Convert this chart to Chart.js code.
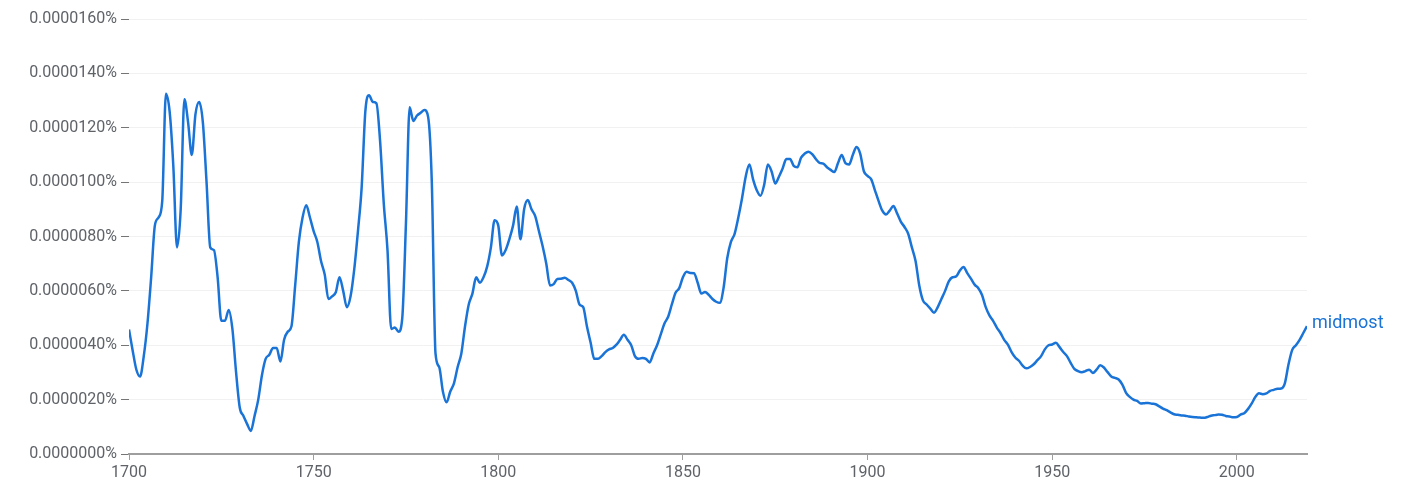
<!DOCTYPE html>
<html>
  <head>
    <title>midmost</title>
    <style>
      html, body { margin: 0; padding: 0; background: #fff; }
      #wrap { width: 1405px; height: 497px; }
    </style>
  </head>
  <body>
    <script src="https://cdn.jsdelivr.net/npm/chart.js"></script>

    <div id="wrap"><canvas id="myChart"></canvas></div>

    <script>
      // term and year span
      const term = 'midmost';
      const firstYear = 1700;
      const lastYear = 2019;

      // yearly values, in units of 0.0000001 %, one row per decade
      const values = [
        45.8, 38, 31, 28.5, 36, 48, 65, 84, 87, 93,            // 1700
        132.5, 126, 106, 76, 90, 130.5, 122, 110, 125, 129.5,  // 1710
        122, 100, 76, 75, 65, 49, 49, 53, 46, 30,              // 1720
        17, 14, 11, 8.5, 14, 20, 29, 35, 36.5, 39,             // 1730
        39, 34, 42, 45, 47, 62, 78, 87, 91.5, 87,              // 1740
        82, 78, 71, 66, 57, 58, 59.5, 65, 60, 54,              // 1750
        58, 68, 82, 98, 126, 132, 129.5, 129, 115, 92,         // 1760
        75, 46, 46.5, 45, 50, 85, 127.5, 122.5, 124.5, 125.5,  // 1770
        126.5, 124, 100, 37, 32, 23, 19, 23, 26, 32,           // 1780
        37, 47, 55, 59, 65, 63, 65, 69, 76, 86,                // 1790
        84, 73, 75, 79, 84, 91, 79, 90, 93.4, 90,              // 1800
        87.5, 82, 76.5, 70, 62, 62.5, 64.4, 64.5, 64.8, 64,    // 1810
        63, 60, 55, 54, 47, 41, 35, 35, 36, 37.5,              // 1820
        38.5, 39, 40.2, 42, 43.9, 42, 40, 36, 35, 35.3,        // 1830
        35, 33.7, 37, 40, 44, 48, 50.5, 55, 59.3, 61,          // 1840
        65, 67, 66.6, 66.5, 63, 59, 59.6, 58.5, 57, 56,        // 1850
        55.6, 61, 72, 78, 81, 87, 94, 102, 106.5, 101,         // 1860
        97, 95, 99, 106.5, 104, 99.5, 102, 105, 108.5, 108.5,  // 1870
        106, 105.5, 109, 110.5, 111.2, 110.3, 108.5, 107.1, 106.8, 105.5, // 1880
        104.5, 103.7, 107, 110, 107, 106.5, 110, 112.9, 110.5, 104,       // 1890
        102.3, 101, 97, 93, 89.5, 88.1, 89.5, 91.2, 88.5, 85.5, // 1900
        83.5, 81, 76, 71, 62, 56.5, 55, 53.5, 52, 54,          // 1910
        57, 60, 63.5, 65, 65.3, 67.5, 68.8, 66.5, 64.5, 62.3,  // 1920
        61, 58.5, 54, 51, 49, 46.5, 44.5, 42, 40.2, 37.5,      // 1930
        35.5, 34.3, 32.5, 31.5, 32, 33, 34.5, 36, 38.5, 40,    // 1940
        40.3, 40.9, 39.3, 37.5, 36, 33.5, 31.3, 30.5, 30.1, 30.5, // 1950
        31, 29.8, 31, 32.6, 31.8, 30.1, 28.5, 28, 27.4, 25.5,  // 1960
        22.5, 21, 20, 19.5, 18.6, 18.7, 18.8, 18.5, 18.3, 17.5, // 1970
        16.7, 16.1, 15.3, 14.6, 14.4, 14.2, 14.1, 13.8, 13.6, 13.5, // 1980
        13.4, 13.3, 13.6, 14.1, 14.3, 14.5, 14.4, 14, 13.8, 13.5,   // 1990
        13.6, 14.5, 15, 16.5, 18.5, 21, 22.3, 22, 22.3, 23.2,  // 2000
        23.6, 24, 24.1, 26, 33, 38.3, 40, 42, 44.5, 47         // 2010
      ];

      const years = values.map((v, i) => firstYear + i);

      const lineColor = '#1a73d6';
      const textColor = '#5f6368';

      // writes the term name just right of the last point
      const endLabel = {
        id: 'endLabel',
        afterDatasetsDraw(chart) {
          const meta = chart.getDatasetMeta(0);
          const last = meta.data[meta.data.length - 1];
          const ctx = chart.ctx;
          ctx.save();
          ctx.font = '18px Roboto';
          ctx.fillStyle = lineColor;
          ctx.textAlign = 'left';
          ctx.textBaseline = 'middle';
          ctx.fillText(term, last.x + 5, last.y - 3);
          ctx.restore();
        }
      };

      const ctx = document.getElementById('myChart').getContext('2d');
      const chart = new Chart(ctx, {
        type: 'line',
        data: {
          datasets: [{
            label: term,
            data: years.map((y, i) => ({ x: y, y: values[i] })),
            borderColor: lineColor,
            borderWidth: 2.5,
            pointRadius: 0,
            fill: false,
            cubicInterpolationMode: 'monotone',
          }],
        },
        options: {
          responsive: true,
          maintainAspectRatio: false,
          animation: false,
          layout: { padding: { top: 19, right: 98, bottom: 0, left: 0 } },
          plugins: {
            legend: { display: false },
            tooltip: { enabled: false },
          },
          scales: {
            x: {
              type: 'linear',
              min: firstYear,
              max: lastYear,
              afterFit: (scale) => { scale.height = 43; },
              grid: {
                drawOnChartArea: false,
                drawTicks: true,
                tickLength: 6,
                tickColor: '#9e9e9e',
              },
              border: { color: '#9e9e9e', width: 2 },
              ticks: {
                stepSize: 50,
                includeBounds: false,
                padding: 3,
                color: textColor,
                font: { family: 'Roboto', size: 16 },
                callback: (v) => String(v),
              },
            },
            y: {
              min: 0,
              max: 160,
              afterFit: (scale) => { scale.width = 129; },
              grid: {
                color: '#f1f1f1',
                lineWidth: 1,
                drawTicks: true,
                tickLength: 8,
                tickColor: '#757575',
              },
              border: { display: false },
              ticks: {
                stepSize: 20,
                padding: 4,
                color: textColor,
                font: { family: 'Roboto', size: 16 },
                callback: (v) => (v * 1e-7).toFixed(7) + '%',
              },
            },
          },
        },
        plugins: [endLabel],
      });
    </script>
  </body>
</html>
